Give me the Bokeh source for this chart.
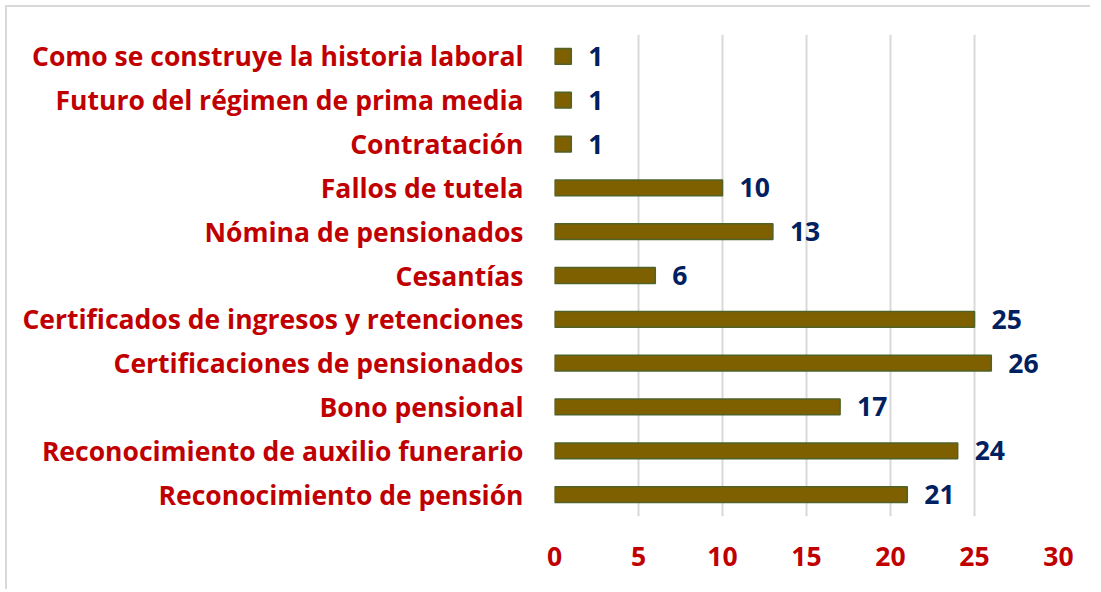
from bokeh.plotting import figure
from bokeh.models import ColumnDataSource, LabelSet, FactorRange, Range1d, FixedTicker
from bokeh.core.properties import value
from bokeh.embed import file_html
from bokeh.resources import INLINE

categories = [
    "Reconocimiento de pensión",
    "Reconocimiento de auxilio funerario",
    "Bono pensional",
    "Certificaciones de pensionados",
    "Certificados de ingresos y retenciones",
    "Cesantías",
    "Nómina de pensionados",
    "Fallos de tutela",
    "Contratación",
    "Futuro del régimen de prima media",
    "Como se construye la historia laboral",
]
values = [21, 24, 17, 26, 25, 6, 13, 10, 1, 1, 1]
x_ticks = [0, 5, 10, 15, 20, 25, 30]

src = ColumnDataSource(dict(cat=categories, val=values, lab=[str(v) for v in values]))

FONT = "Open Sans"
RED = "#C00000"
NAVY = "#002060"

p = figure(
    width=1085, height=584,
    y_range=FactorRange(*categories),
    x_range=Range1d(0, 30),
    output_backend="svg", toolbar_location=None,
    min_border_left=547, min_border_right=34, min_border_top=27, min_border_bottom=75,
)
p.hbar(y="cat", right="val", left=0, height=0.36, source=src,
       fill_color="#7F6000", line_color="#4F6228", line_width=1.5)

labels = LabelSet(x="val", y="cat", text="lab", source=src, x_offset=17,
                  text_align="left", text_baseline="middle",
                  text_font=value(FONT), text_font_style="bold", text_font_size="26.5px",
                  text_color=NAVY)
p.add_layout(labels)

p.xaxis.ticker = FixedTicker(ticks=x_ticks)
p.xaxis.axis_line_color = None
p.xaxis.major_tick_line_color = None
p.xaxis.minor_tick_line_color = None
p.xaxis.major_label_text_font = FONT
p.xaxis.major_label_text_font_style = "bold"
p.xaxis.major_label_text_font_size = "26.5px"
p.xaxis.major_label_text_color = RED
p.xaxis.major_label_standoff = 24

p.yaxis.axis_line_color = None
p.yaxis.major_tick_line_color = None
p.yaxis.minor_tick_line_color = None
p.yaxis.major_label_text_font = FONT
p.yaxis.major_label_text_font_style = "bold"
p.yaxis.major_label_text_font_size = "26.5px"
p.yaxis.major_label_text_color = RED
p.yaxis.major_label_standoff = 25

p.ygrid.grid_line_color = None
p.xgrid.grid_line_color = "#D9D9D9"
p.xgrid.grid_line_width = 2
p.outline_line_color = None
p.styles = {"border-top": "2px solid #D9D9D9", "border-left": "2px solid #D9D9D9",
            "margin-left": "5px", "margin-top": "5px"}

open("out.html", "w").write(file_html(p, INLINE))
